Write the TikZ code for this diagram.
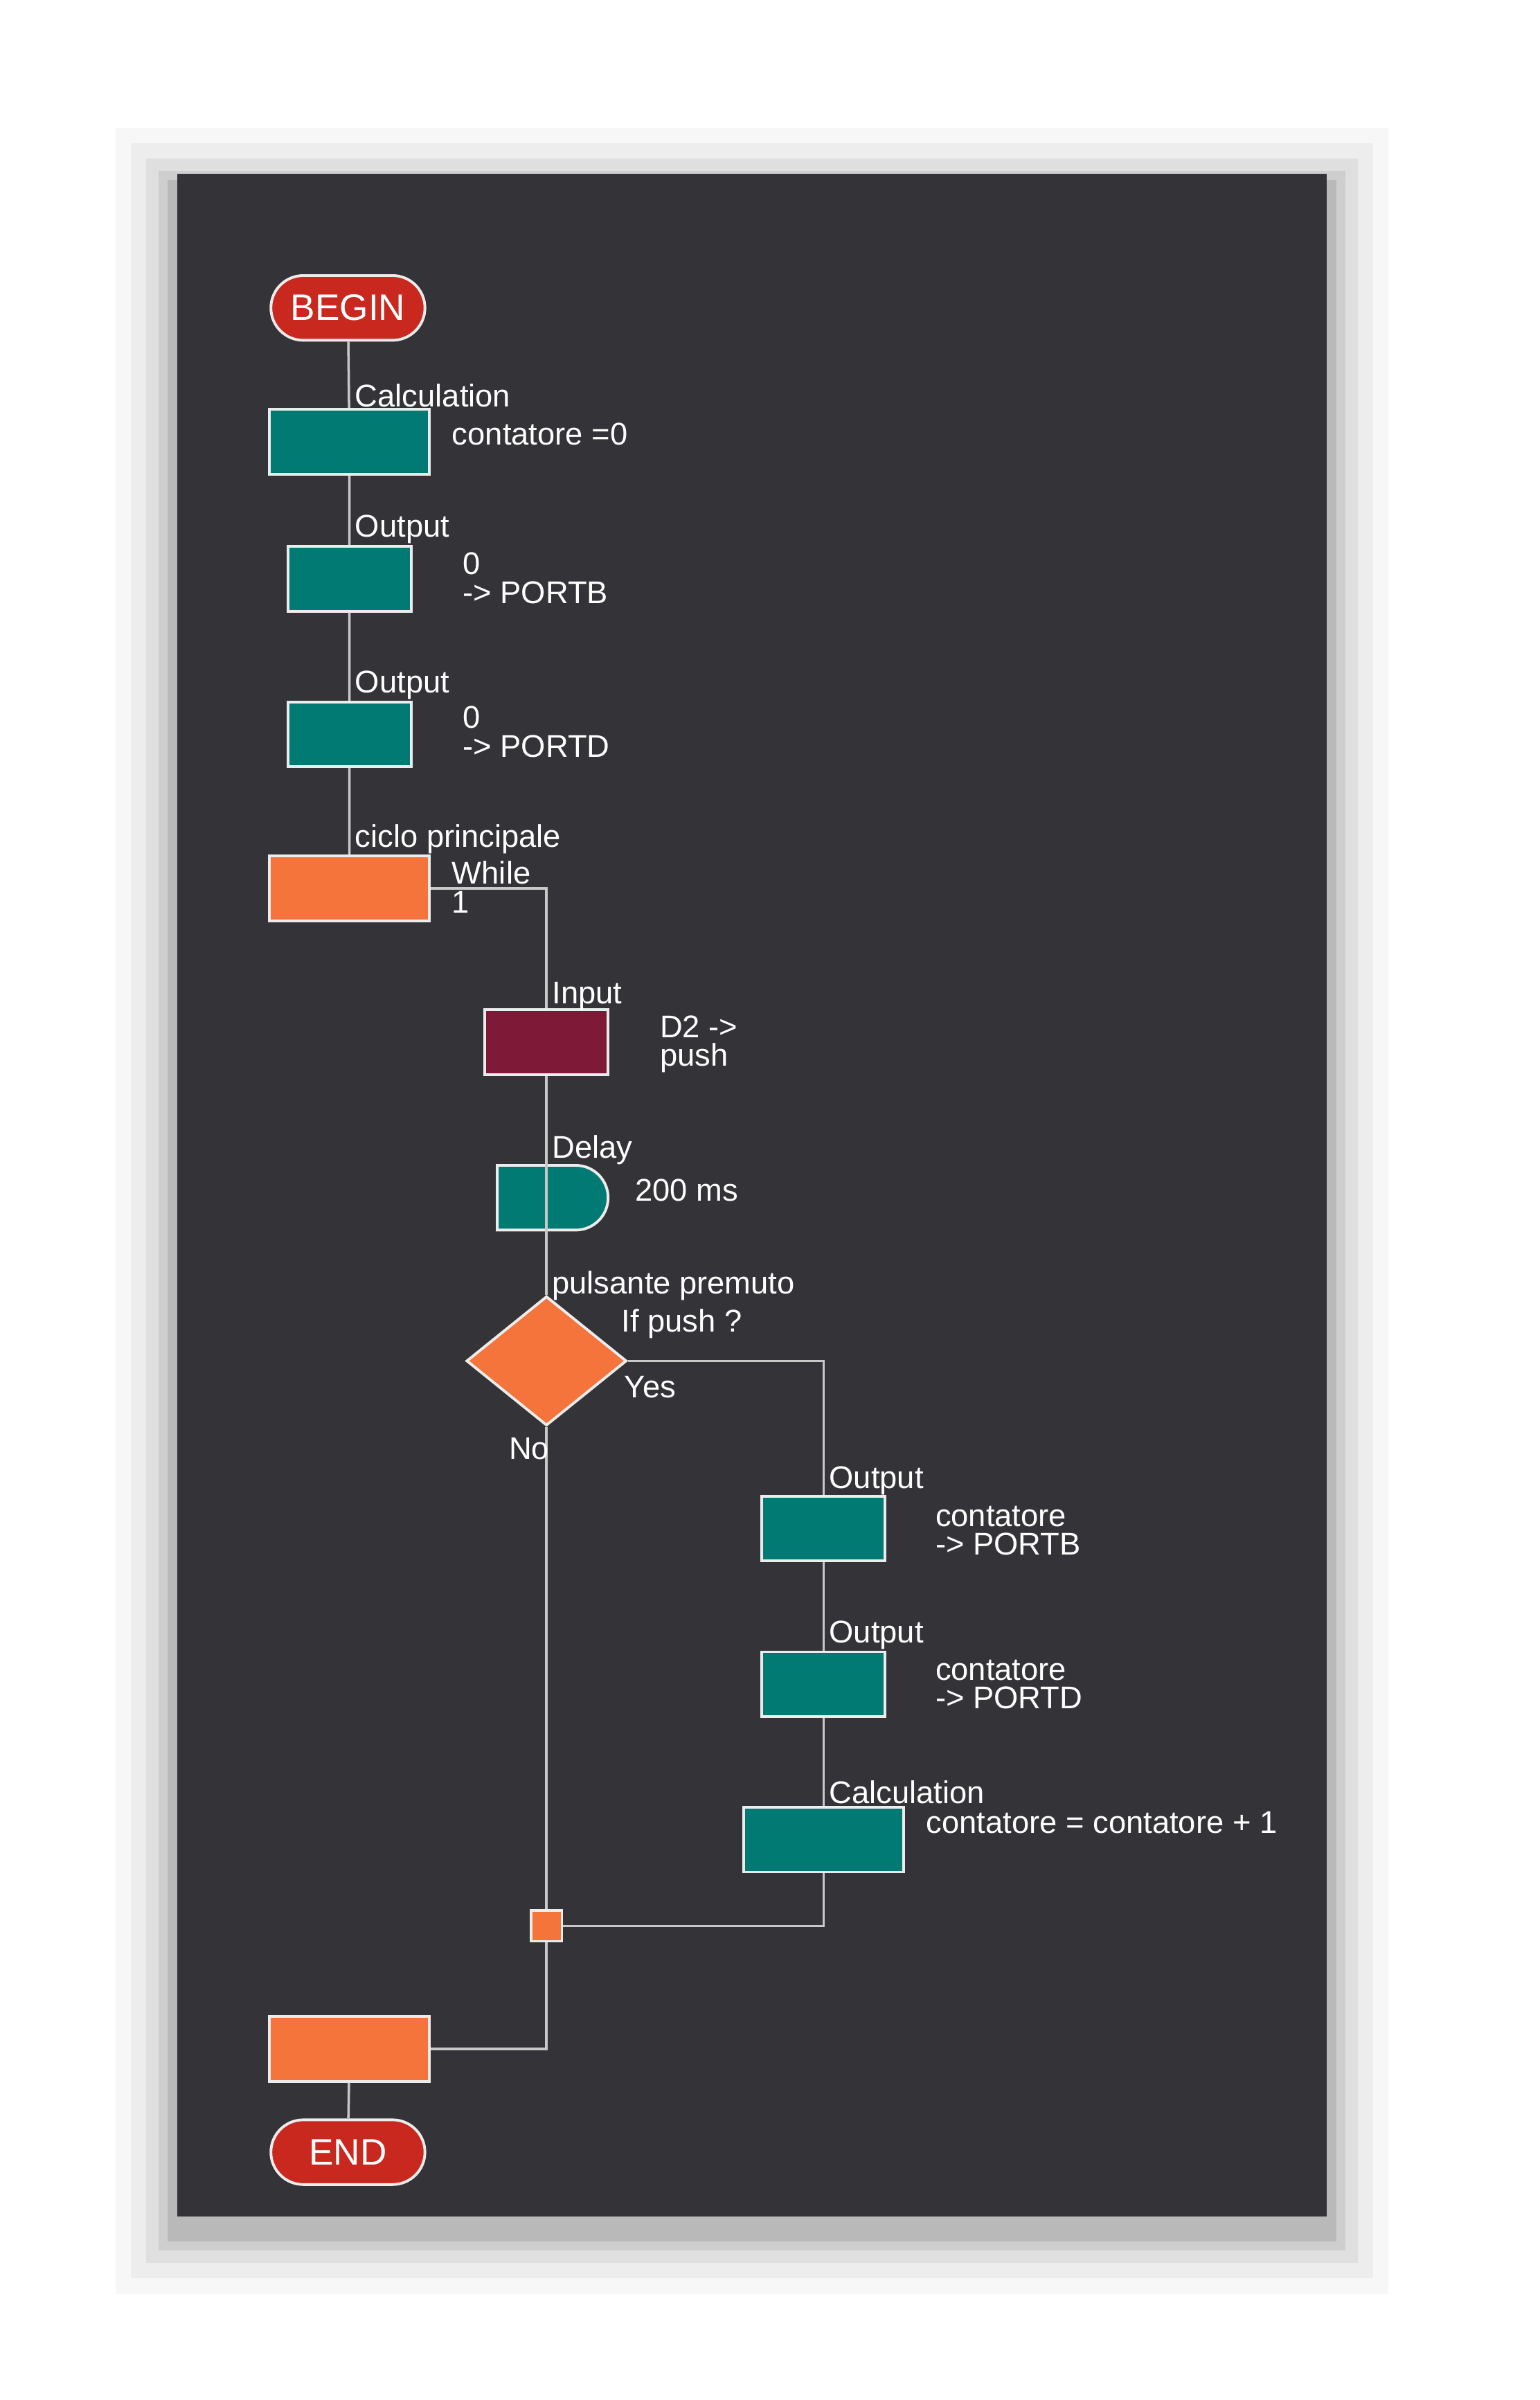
\documentclass[tikz,border=0pt]{standalone}
\usepackage{fontspec}
\setmainfont{Liberation Sans}
\usetikzlibrary{shapes.geometric,shapes.misc}
\definecolor{panel}{HTML}{343438}
\definecolor{teal}{HTML}{007A73}
\definecolor{ored}{HTML}{C8281E}
\definecolor{orng}{HTML}{F4743B}
\definecolor{wine}{HTML}{7E1A38}
\definecolor{wire}{HTML}{C8C8C8}
\tikzset{
  blk/.style={draw=white!85!gray, line width=0.5pt, inner sep=0pt, minimum width=1.04cm, minimum height=0.42cm},
  term/.style={blk, rounded rectangle, fill=ored, text=white, font=\fontsize{6.8}{8}\selectfont, minimum width=1.0cm},
  calc/.style={blk, rectangle, fill=teal},
  io/.style={blk, trapezium, trapezium left angle=59, trapezium right angle=121, trapezium stretches body, minimum width=0.8cm, fill=teal},
  inp/.style={io, fill=wine},
  delay/.style={blk, rounded rectangle, rounded rectangle left arc=none, fill=teal, minimum width=0.72cm},
  loopbeg/.style={blk, chamfered rectangle, chamfered rectangle corners={north west,north east}, chamfered rectangle xsep=0.08cm, chamfered rectangle ysep=0.08cm, fill=orng},
  loopend/.style={loopbeg, chamfered rectangle corners={south west,south east}},
  test/.style={blk, diamond, fill=orng, minimum width=1.04cm, minimum height=0.84cm},
  jn/.style={blk, rectangle, fill=orng, minimum width=0.2cm, minimum height=0.2cm},
  lbl/.style={anchor=west, text=white, inner sep=0pt, font=\fontsize{5.8}{7}\selectfont},
  wirel/.style={draw=wire, line width=0.45pt},
}
\begin{document}
\begin{tikzpicture}[x=0.01cm,y=-0.01cm]
\useasboundingbox (0,0) rectangle (1000,1559);
% shadow
\foreach \s/\o in {40/0.03,30/0.04,20/0.06,12/0.08,6/0.1}
  \fill[black,opacity=\o] (115-\s,113-\s+10) rectangle (862+\s,1440+\s+10);
\fill[panel] (115,113) rectangle (862,1440);

% main column
\node[term] (begin) at (226,200) {BEGIN};
\node[calc] (calc1) at (227,287) {};
\node[io] (out1) at (227,376) {};
\node[io] (out2) at (227,477) {};
\node[loopbeg] (while) at (227,577) {};
\node[inp] (input) at (355,677) {};
\node[delay] (delay) at (359,778) {};
\node[test] (if) at (355,884) {};
\node[io] (out3) at (535,993) {};
\node[io] (out4) at (535,1094) {};
\node[calc] (calc2) at (535,1195) {};
\node[jn] (join) at (355,1251) {};
\node[loopend] (wend) at (227,1331) {};
\node[term] (end) at (226,1398) {END};

% connectors
\coordinate (c1) at (355,577);
\coordinate (c2) at (535,884);
\coordinate (c3) at (535,1251);
\coordinate (c4) at (355,1331);
\begin{scope}[on background layer/.style={}]
\draw[wirel] (begin) -- (calc1) -- (out1) -- (out2) -- (while);
\draw[wirel] (while.east) -- (c1) -- (input) -- (delay.west -| input) -- (delay.west -| if) -- (if);
\draw[wirel] (if.east) -- (c2) -- (out3) -- (out4) -- (calc2) -- (c3) -- (join);
\draw[wirel] (if.south) -- (join) -- (c4) -- (wend.east);
\draw[wirel] (wend) -- (end);
\end{scope}

% labels
\node[lbl] (l1) at (230,257) {Calculation};
\node[lbl] (t1) at (293,282) {contatore =0};
\node[lbl] (l2) at (230,344) {Output};
\node[lbl] (t2) at (300,366) {0};
\node[lbl] (t2b) at (300,385) {-> PORTB};
\node[lbl] (l3) at (230,445) {Output};
\node[lbl] (t3) at (300,466) {0};
\node[lbl] (t3b) at (300,485) {-> PORTD};
\node[lbl] (l4) at (230,545) {ciclo principale};
\node[lbl] (t4) at (293,567) {While};
\node[lbl] (t4b) at (293,586) {1};
\node[lbl] (l5) at (358,647) {Input};
\node[lbl] (t5) at (428,667) {D2 ->};
\node[lbl] (t5b) at (428,687) {push};
\node[lbl] (l6) at (358,747) {Delay};
\node[lbl] (t6) at (412,773) {200 ms};
\node[lbl] (l7) at (358,835) {pulsante premuto};
\node[lbl] (t7) at (403,860) {If push ?};
\node[lbl] (yes) at (405,901) {Yes};
\node[lbl] (no) at (330,941) {No};
\node[lbl] (l8) at (538,962) {Output};
\node[lbl] (t8) at (607,985) {contatore};
\node[lbl] (t8b) at (607,1003) {-> PORTB};
\node[lbl] (l9) at (538,1062) {Output};
\node[lbl] (t9) at (607,1085) {contatore};
\node[lbl] (t9b) at (607,1103) {-> PORTD};
\node[lbl] (l10) at (538,1164) {Calculation};
\node[lbl] (t10) at (601,1184) {contatore = contatore + 1};
\end{tikzpicture}
\end{document}
